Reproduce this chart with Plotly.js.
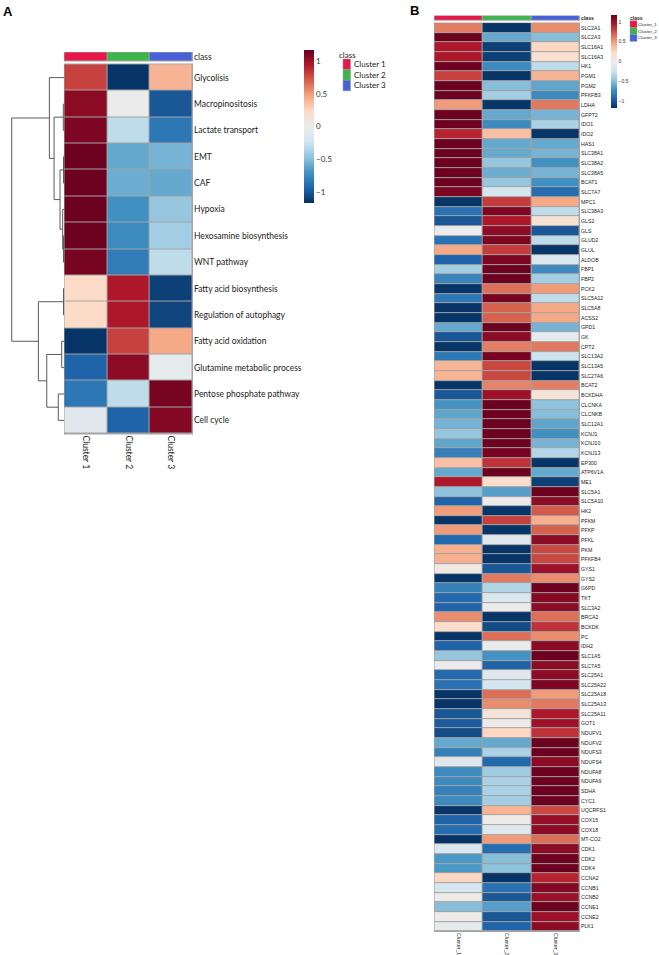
<!DOCTYPE html>
<html><head><meta charset="utf-8">
<script src="https://cdn.plot.ly/plotly-3.0.1.min.js"></script>
<style>html,body{margin:0;padding:0;background:#fff;} #chart{width:659px;height:955px;}</style>
</head><body><div id="chart"></div>
<script>
// ---------------- Panel A data ----------------
const pathwaysA = ['Glycolisis','Macropinositosis','Lactate transport','EMT','CAF','Hypoxia',
  'Hexosamine biosynthesis','WNT pathway','Fatty acid biosynthesis','Regulation of autophagy',
  'Fatty acid oxidation','Glutamine metabolic process','Pentose phosphate pathway','Cell cycle'];
const clustersA = ['Cluster 1','Cluster 2','Cluster 3'];
const cluster1A = [0.80, 1.05, 1.10, 1.15, 1.15, 1.15, 1.15, 1.12, 0.22, 0.22, -1.15, -0.95, -0.85, -0.10];
const cluster2A = [-1.15, 0.00, -0.30, -0.60, -0.58, -0.72, -0.75, -0.82, 0.95, 0.95, 0.80, 1.05, -0.30, -0.95];
const cluster3A = [0.40, -1.00, -0.85, -0.55, -0.60, -0.45, -0.40, -0.30, -1.10, -1.08, 0.45, -0.05, 1.12, 1.08];
// hclust-style merges (negative = leaf, positive = earlier merge), heights
const mergeLeftA   = [-2, -4, -7, -6, 2, 1, -1, -9, -11, -13, 9, 8, 7];
const mergeRightA  = [-3, -5, -8, 3, 4, 5, 6, -10, -12, -14, 10, 11, 12];
const mergeHeightA = [0.013, 0.01, 0.01, 0.025, 0.076, 0.19, 0.28, 0.01, 0.044, 0.109, 0.33, 0.49, 1.0];

// ---------------- Panel B data ----------------
const genesB = ['SLC2A1','SLC2A3','SLC16A1','SLC16A3','HK1','PGM1','PGM2','PFKFB3','LDHA','GFPT2',
  'IDO1','IDO2','HAS1','SLC38A1','SLC38A2','SLC38A5','BCAT1','SLC7A7','MPC1','SLC38A3',
  'GLS2','GLS','GLUD2','GLUL','ALDOB','FBP1','FBP2','PCK2','SLC5A12','SLC5A8',
  'ACSS2','GPD1','GK','CPT2','SLC13A2','SLC13A5','SLC27A6','BCAT2','BCKDHA','CLCNKA',
  'CLCNKB','SLC12A1','KCNJ1','KCNJ10','KCNJ13','EP300','ATP6V1A','ME1','SLC5A1','SLC5A10',
  'HK2','PFKM','PFKP','PFKL','PKM','PFKFB4','GYS1','GYS2','G6PD','TKT',
  'SLC3A2','BRCA2','BCKDK','PC','IDH2','SLC1A5','SLC7A5','SLC25A1','SLC25A22','SLC25A18',
  'SLC25A13','SLC25A11','GOT1','NDUFV1','NDUFV2','NDUFS3','NDUFS4','NDUFA8','NDUFA9','SDHA',
  'CYC1','UQCRFS1','COX15','COX18','MT-CO2','CDK1','CDK2','CDK4','CCNA2','CCNB1',
  'CCNB2','CCNE1','CCNE2','PLK1'];
const clustersB = ['Cluster_1','Cluster_2','Cluster_3'];
const cluster1B = [0.6,1.15,0.95,0.95,1.15,0.8,1.15,1.15,0.5,1.15,
  1.15,0.9,1.15,1.15,1.15,1.15,1.15,1.1,-1.15,-0.88,
  -1.0,0.0,-0.88,0.45,-0.95,-0.4,-0.78,-1.15,-0.85,-1.15,
  -1.15,-0.6,-1.0,-1.15,-0.85,0.4,0.4,-1.15,-1.0,-0.7,
  -0.62,-0.55,-0.45,-0.62,-0.8,0.35,-0.6,0.95,-0.48,-0.95,
  0.5,-1.15,0.5,-0.92,0.42,0.42,0.05,-1.15,-0.8,-0.92,
  -0.95,0.55,0.2,-1.15,-0.95,-0.45,0.0,-0.92,-0.88,-1.15,
  -1.15,-1.0,-0.98,-1.05,-0.6,-0.8,-0.1,-0.75,-0.75,-0.8,
  -0.75,-1.15,-0.95,-0.9,-1.15,-0.15,-0.68,-0.68,0.25,-0.2,
  0.02,-0.5,0.02,-0.05];
const cluster2B = [-1.15,-0.6,-1.1,-1.1,-0.75,-1.15,-0.5,-0.4,-1.15,-0.6,
  -0.75,0.35,-0.6,-0.6,-0.45,-0.58,-0.45,-0.2,0.82,1.1,
  0.95,1.05,1.1,0.82,1.1,1.15,1.15,0.65,1.12,0.7,
  0.7,1.15,1.05,0.6,1.12,0.78,0.78,0.58,1.0,1.15,
  1.15,1.15,1.15,1.15,1.12,0.85,1.15,0.2,-0.65,0.0,
  -1.15,0.8,-1.15,-0.1,-1.15,-1.15,-1.0,0.62,-0.35,-0.15,
  0.0,-1.15,-1.05,0.65,0.0,-0.7,-0.95,-0.1,-0.22,0.65,
  0.55,0.12,0.02,0.25,-0.6,-0.38,-0.92,-0.42,-0.38,-0.38,
  -0.4,0.4,0.02,-0.12,0.5,-0.9,-0.5,-0.48,-1.15,-0.88,
  -1.0,-0.65,-1.0,-0.95];
const cluster3B = [0.55,-0.5,0.25,0.18,-0.3,0.4,-0.62,-0.75,0.62,-0.55,
  -0.38,-1.15,-0.6,-0.55,-0.72,-0.55,-0.72,-0.9,0.45,-0.3,
  0.15,-1.0,-0.3,-1.15,-0.15,-0.75,-0.4,0.5,-0.3,0.45,
  0.45,-0.55,-0.05,0.62,-0.25,-1.15,-1.15,0.6,0.12,-0.48,
  -0.5,-0.62,-0.72,-0.55,-0.35,-1.15,-0.6,-1.1,1.15,1.05,
  0.72,0.42,0.7,1.05,0.78,0.78,1.0,0.55,1.15,1.08,
  1.05,0.65,0.85,0.55,1.05,1.15,1.05,1.05,1.1,0.5,
  0.62,0.95,1.0,0.85,1.15,1.15,1.05,1.15,1.15,1.15,
  1.15,0.78,1.02,1.05,0.65,1.05,1.15,1.15,0.9,1.08,
  1.0,1.15,1.0,1.05];

// ---------------- styling ----------------
const W = 659, H = 955;
const px = v => v / W;
const py = v => 1 - v / H;
const RdBu = [[0,'#053061'],[0.1,'#2166ac'],[0.2,'#4393c3'],[0.3,'#92c5de'],[0.4,'#d1e5f0'],
  [0.5,'#ebebeb'],[0.6,'#fddbc7'],[0.7,'#f4a582'],[0.8,'#d6604d'],[0.9,'#b2182b'],[1,'#67001f']];
const classColors = ['#E8174B','#3CB54A','#4762D9'];
const classScale = [[0,classColors[0]],[0.5,classColors[1]],[1,classColors[2]]];
const ZMAX = 1.17;
const GRID = '#a3a3a3';
const fontA = 'Lato, "Open Sans", sans-serif';
const fontB = '"Liberation Sans", Arial, sans-serif';

function zRows(c1, c2, c3) { return c1.map((v, i) => [v, c2[i], c3[i]]); }
const zA = zRows(cluster1A, cluster2A, cluster3A);
const zB = zRows(cluster1B, cluster2B, cluster3B);
const idxA = pathwaysA.map((_, i) => i);
const idxB = genesB.map((_, i) => i);

// dendrogram coordinates from merge table
function dendro(left, right, height) {
  const pos = [], hgt = [];
  const xs = [], ys = [];
  const get = m => m < 0 ? [-m - 1, 0] : [pos[m - 1], hgt[m - 1]];
  for (let k = 0; k < left.length; k++) {
    const [yl, hl] = get(left[k]);
    const [yr, hr] = get(right[k]);
    const h = height[k];
    xs.push(hl, h, h, hr, null);
    ys.push(yl, yl, yr, yr, null);
    pos.push((yl + yr) / 2); hgt.push(h);
  }
  return {xs, ys};
}
const dA = dendro(mergeLeftA, mergeRightA, mergeHeightA);

const eA = 0.012, eB = 0.012, eBr = 0.06;
const rangeXA = [-0.5 - eA, 2.5 + eA];
const rangeYA = [pathwaysA.length - 0.5 + eA * 3, -0.5 - eA * 3];
const rangeXB = [-0.5 - eB, 2.5 + eB];
const rangeYB = [genesB.length - 0.5 + eBr, -0.5 - eBr];

const traces = [
  { type:'heatmap', z:zA, x:[0,1,2], y:idxA, xaxis:'x', yaxis:'y', colorscale:RdBu,
    zmin:-ZMAX, zmax:ZMAX, xgap:1, ygap:1, hoverinfo:'skip',
    colorbar:{ x:px(304), xanchor:'left', xref:'paper', y:py(50), yanchor:'top', yref:'paper',
      len:153, lenmode:'pixels', thickness:10, thicknessmode:'pixels', xpad:0, ypad:0,
      outlinewidth:0, ticks:'', tickvals:[-1,-0.5,0,0.5,1], ticktext:['\u22121','\u22120.5','0','0.5','1'],
      tickfont:{family:fontA, size:8, color:'#333'} } },
  { type:'heatmap', z:[[0,1,2]], x:[0,1,2], y:[0], xaxis:'x2', yaxis:'y2', colorscale:classScale,
    zmin:0, zmax:2, showscale:false, xgap:1, ygap:1, hoverinfo:'skip' },
  { type:'scatter', mode:'lines', x:dA.xs, y:dA.ys, xaxis:'x3', yaxis:'y3',
    line:{color:'#5a5a5a', width:1}, hoverinfo:'skip', showlegend:false, connectgaps:false },
  { type:'heatmap', z:zB, x:[0,1,2], y:idxB, xaxis:'x4', yaxis:'y4', colorscale:RdBu,
    zmin:-ZMAX, zmax:ZMAX, xgap:1, ygap:1, hoverinfo:'skip',
    colorbar:{ x:px(611), xanchor:'left', xref:'paper', y:py(15), yanchor:'top', yref:'paper',
      len:93, lenmode:'pixels', thickness:6, thicknessmode:'pixels', xpad:0, ypad:0,
      outlinewidth:0, ticks:'', tickvals:[-1,-0.5,0,0.5,1], ticktext:['\u22121','\u22120.5','0','0.5','1'],
      tickfont:{family:fontB, size:5, color:'#333'} } },
  { type:'heatmap', z:[[0,1,2]], x:[0,1,2], y:[0], xaxis:'x5', yaxis:'y5', colorscale:classScale,
    zmin:0, zmax:2, showscale:false, xgap:1, ygap:1, hoverinfo:'skip' }
];

const baseAx = { showgrid:false, zeroline:false, showline:false, ticks:'', fixedrange:true };
const tfA = {family:fontA, size:8.5, color:'#222'};
const tfB = {family:fontB, size:5.2, color:'#222'};

const shapes = [
  { type:'rect', xref:'x domain', yref:'y domain', x0:0, x1:1, y0:0, y1:1, fillcolor:GRID, line:{width:0}, layer:'below' },
  { type:'rect', xref:'x2 domain', yref:'y2 domain', x0:0, x1:1, y0:0, y1:1, fillcolor:GRID, line:{width:0}, layer:'below' },
  { type:'rect', xref:'x4 domain', yref:'y4 domain', x0:0, x1:1, y0:0, y1:1, fillcolor:GRID, line:{width:0}, layer:'below' },
  { type:'rect', xref:'x5 domain', yref:'y5 domain', x0:0, x1:1, y0:0, y1:1, fillcolor:GRID, line:{width:0}, layer:'below' }
];
const annotations = [
  { text:'<b>A</b>', x:px(1), y:py(2), xref:'paper', yref:'paper', xanchor:'left', yanchor:'top',
    showarrow:false, font:{family:fontB, size:13, color:'#000'} },
  { text:'<b>B</b>', x:px(408), y:py(1), xref:'paper', yref:'paper', xanchor:'left', yanchor:'top',
    showarrow:false, font:{family:fontB, size:13, color:'#000'} },
  { text:'class', x:px(337), y:py(48), xref:'paper', yref:'paper', xanchor:'left', yanchor:'top',
    showarrow:false, font:{family:fontA, size:8, color:'#222'} },
  { text:'<b>class</b>', x:px(628), y:py(13), xref:'paper', yref:'paper', xanchor:'left', yanchor:'top',
    showarrow:false, font:{family:fontB, size:5, color:'#222'} }
];
// legend A
const legA = {x0:343, x1:350.5, top:59, h:10.6};
clustersA.forEach((c, i) => {
  const y0 = legA.top + i * legA.h;
  shapes.push({ type:'rect', xref:'paper', yref:'paper', x0:px(legA.x0), x1:px(legA.x1), y0:py(y0 + legA.h), y1:py(y0),
    fillcolor:classColors[i], line:{color:'#999', width:0.5} });
  annotations.push({ text:c, x:px(352), y:py(y0 + legA.h / 2), xref:'paper', yref:'paper', xanchor:'left', yanchor:'middle',
    showarrow:false, font:{family:fontA, size:8, color:'#222'} });
});
// legend B
const legB = {x0:630, x1:637, top:20.7, h:6.9};
clustersB.forEach((c, i) => {
  const y0 = legB.top + i * legB.h;
  shapes.push({ type:'rect', xref:'paper', yref:'paper', x0:px(legB.x0), x1:px(legB.x1), y0:py(y0 + legB.h), y1:py(y0),
    fillcolor:classColors[i], line:{color:'#999', width:0.4} });
  annotations.push({ text:c, x:px(637.3), y:py(y0 + legB.h / 2), xref:'paper', yref:'paper', xanchor:'left', yanchor:'middle',
    showarrow:false, borderpad:0, font:{family:fontB, size:4.4, color:'#222'} });
});

const layout = {
  width:W, height:H, margin:{l:0, r:0, t:0, b:0, pad:0},
  paper_bgcolor:'#fff', plot_bgcolor:'rgba(0,0,0,0)', showlegend:false,
  xaxis: {...baseAx, domain:[px(64), px(193)], range:rangeXA, anchor:'y',
    tickvals:[0,1,2], ticktext:clustersA, tickangle:90, tickfont:tfA},
  yaxis: {...baseAx, domain:[py(434.5), py(63.5)], range:rangeYA, anchor:'x', side:'right',
    tickvals:idxA, ticktext:pathwaysA, tickfont:tfA},
  xaxis2:{...baseAx, domain:[px(64), px(193)], range:rangeXA, anchor:'y2', showticklabels:false},
  yaxis2:{...baseAx, domain:[py(61.5), py(52)], range:[0.55,-0.55], anchor:'x2', side:'right',
    tickvals:[0], ticktext:['class'], tickfont:tfA},
  xaxis3:{...baseAx, domain:[0, px(64)], range:[1.224, 0], anchor:'y3', visible:false},
  yaxis3:{...baseAx, domain:[py(434.5), py(63.5)], range:rangeYA, anchor:'x3', visible:false},
  xaxis4:{...baseAx, domain:[px(434), px(580)], range:rangeXB, anchor:'y4',
    tickvals:[0,1,2], ticktext:clustersB, tickangle:90, tickfont:{family:fontB, size:5.2, color:'#222'}},
  yaxis4:{...baseAx, domain:[py(932), py(22.5)], range:rangeYB, anchor:'x4', side:'right',
    tickvals:idxB, ticktext:genesB, tickfont:tfB},
  xaxis5:{...baseAx, domain:[px(434), px(580)], range:rangeXB, anchor:'y5', showticklabels:false},
  yaxis5:{...baseAx, domain:[py(20.7), py(15.5)], range:[0.55,-0.55], anchor:'x5', side:'right',
    tickvals:[0], ticktext:['<b>class</b>'], tickfont:tfB},
  shapes, annotations
};
Plotly.newPlot('chart', traces, layout, {staticPlot:true, displayModeBar:false});
</script>
</body></html>
